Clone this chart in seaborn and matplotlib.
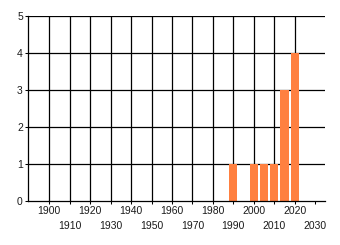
import matplotlib
matplotlib.use("Agg")
import matplotlib.pyplot as plt
import seaborn as sns
import pandas as pd

years = [1990, 2000, 2005, 2010, 2015, 2020]
counts = [1, 1, 1, 1, 3, 4]
major_ticks = [1900, 1920, 1940, 1960, 1980, 2000, 2020]
minor_ticks = [1910, 1930, 1950, 1970, 1990, 2010, 2030]
y_ticks = [0, 1, 2, 3, 4, 5]

sns.set_style("white")
plt.rcParams['font.family'] = ['Liberation Sans', 'DejaVu Sans']

fig = plt.figure(figsize=(3.4, 2.45), dpi=100)
ax = fig.add_axes([28/340, 1-201/245, (325-28)/340, (201-16)/245])

df = pd.DataFrame({"year": years, "count": counts})
sns.barplot(data=df, x="year", y="count", native_scale=True, width=0.8,
            color="#FF8040", saturation=1, ax=ax, zorder=3,
            linewidth=0, edgecolor="none")

ax.set_xlim(1889.6, 2034.8)
ax.set_ylim(0, 5)
ax.set_xlabel("")
ax.set_ylabel("")

ax.set_xticks(major_ticks, labels=[str(t) for t in major_ticks])
ax.set_xticks(minor_ticks, labels=[str(t) for t in minor_ticks], minor=True)
ax.set_yticks(y_ticks, labels=[str(t) for t in y_ticks])

tc = "#1a1a1a"
ax.tick_params(axis='x', which='major', length=2.5, width=0.75, color='black',
               pad=1.0, labelsize=7.5, labelcolor=tc, direction='out', bottom=True)
ax.tick_params(axis='x', which='minor', length=2.5, width=0.75, color='black',
               pad=11.8, labelsize=7.5, labelcolor=tc, direction='out', bottom=True)
ax.tick_params(axis='y', length=2.2, width=0.75, color='black', pad=1.5,
               labelsize=7.5, labelcolor=tc, left=True)

for t in major_ticks:
    ax.axvline(t, color='black', lw=0.9, zorder=1)
for t in minor_ticks[:-1]:
    ax.axvline(t, color='black', lw=0.9, zorder=1)
for t in y_ticks[1:]:
    ax.axhline(t, color='black', lw=0.9, zorder=1)

for s in ['top', 'right']:
    ax.spines[s].set_visible(False)
for s in ['left', 'bottom']:
    ax.spines[s].set_color('black')
    ax.spines[s].set_linewidth(0.9)
    ax.spines[s].set_zorder(4)

fig.savefig("out.png", dpi=100)
